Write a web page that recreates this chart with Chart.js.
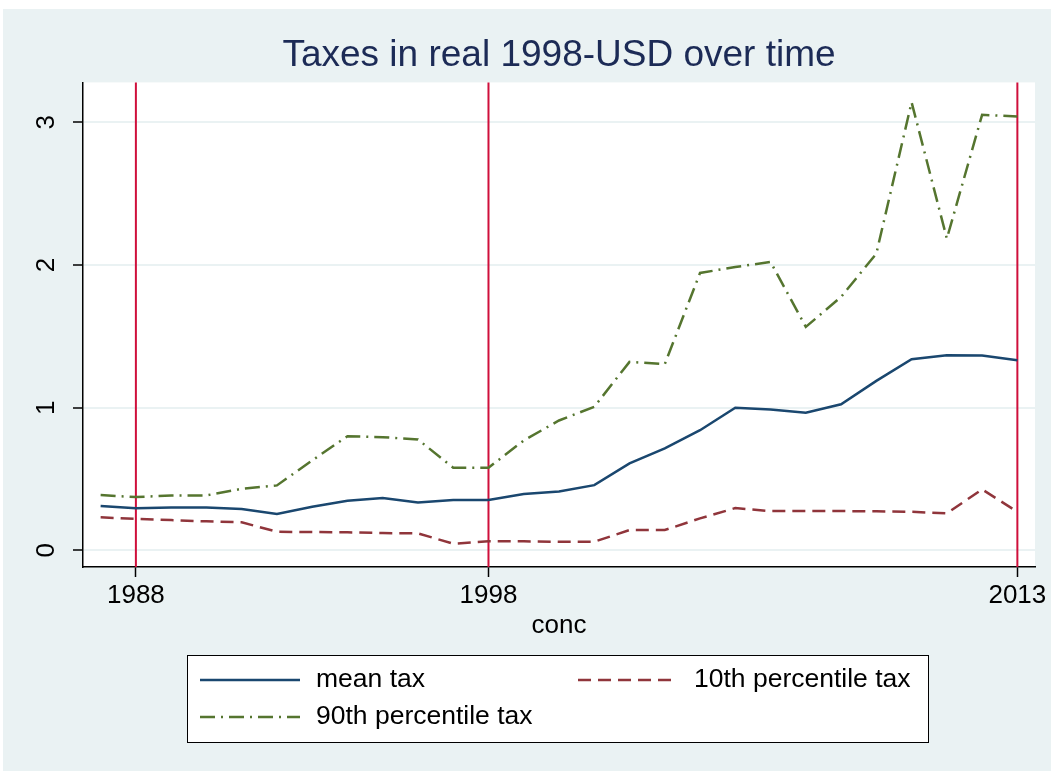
<!DOCTYPE html>
<html>
<head>
<meta charset="utf-8">
<title>Taxes in real 1998-USD over time</title>
<script src="https://cdn.jsdelivr.net/npm/chart.js@4.4.1/dist/chart.umd.min.js"></script>
<style>
  html, body { margin: 0; padding: 0; background: #ffffff; }
  #wrap { width: 1051px; height: 771px; }
</style>
</head>
<body>
<div id="wrap"><canvas id="taxChart" width="1051" height="771"></canvas></div>
<script>
// data
const years = [1987, 1988, 1989, 1990, 1991, 1992, 1993, 1994, 1995, 1996, 1997, 1998, 1999, 2000,
               2001, 2002, 2003, 2004, 2005, 2006, 2007, 2008, 2009, 2010, 2011, 2012, 2013];
const meanTax = [0.31, 0.294, 0.30, 0.30, 0.29, 0.254, 0.305, 0.347, 0.366, 0.336, 0.352, 0.352, 0.394, 0.413,
                 0.457, 0.609, 0.714, 0.842, 0.999, 0.987, 0.964, 1.024, 1.188, 1.34, 1.368, 1.366, 1.333];
const p10Tax = [0.231, 0.221, 0.212, 0.203, 0.196, 0.13, 0.128, 0.126, 0.121, 0.119, 0.046, 0.063, 0.063, 0.06,
                0.06, 0.142, 0.142, 0.224, 0.296, 0.275, 0.275, 0.275, 0.273, 0.27, 0.259, 0.427, 0.27];
const p90Tax = [0.387, 0.373, 0.385, 0.385, 0.431, 0.455, 0.63, 0.80, 0.793, 0.777, 0.579, 0.579, 0.77, 0.91,
                1.006, 1.321, 1.305, 1.944, 1.986, 2.021, 1.566, 1.776, 2.08, 3.141, 2.185, 3.053, 3.041];
const xTickYears = [1988, 1998, 2013];
const xLineYears = [1988, 1998, 2013];
const yTickValues = [0, 1, 2, 3];
const seriesLabels = ['mean tax', '10th percentile tax', '90th percentile tax'];

const BG = '#eaf2f3';
const FONT = '"Liberation Sans", Arial, sans-serif';

function toPoints(vals) {
    return years.map((y, i) => ({ x: y, y: vals[i] }));
}

// background: light blue graph region, white plot region
const backgroundPlugin = {
    id: 'stataBackground',
    afterLayout(chart) {
        // centre the title over the plot region, like stata does
        const t = chart.titleBlock;
        if (t) {
            t.left = chart.chartArea.left;
            t.right = chart.chartArea.right;
            t.width = t.right - t.left;
        }
    },
    beforeDraw(chart) {
        const ctx = chart.ctx;
        const a = chart.chartArea;
        ctx.save();
        ctx.fillStyle = '#ffffff';
        ctx.fillRect(0, 0, chart.width, chart.height);
        ctx.fillStyle = BG;
        ctx.fillRect(3, 9, chart.width - 3, chart.height - 9);
        ctx.fillStyle = '#ffffff';
        ctx.fillRect(a.left, a.top, a.right - a.left, a.bottom - a.top);
        ctx.restore();
    }
};

// red vertical reference lines
const xLinePlugin = {
    id: 'xLines',
    beforeDatasetsDraw(chart) {
        const ctx = chart.ctx;
        const a = chart.chartArea;
        const xs = chart.scales.x;
        ctx.save();
        ctx.strokeStyle = '#cf0f3b';
        ctx.lineWidth = 2;
        xLineYears.forEach(yr => {
            const px = xs.getPixelForValue(yr);
            ctx.beginPath();
            ctx.moveTo(px, a.top);
            ctx.lineTo(px, a.bottom);
            ctx.stroke();
        });
        ctx.restore();
    }
};

// stata-like boxed legend, two columns
const boxLegendPlugin = {
    id: 'boxLegend',
    afterDraw(chart) {
        const ctx = chart.ctx;
        const box = { x: 187.5, y: 655.5, w: 741, h: 87 };
        const slots = [
            { x: 200, y: 680 },
            { x: 578, y: 680 },
            { x: 200, y: 717 }
        ];
        ctx.save();
        ctx.fillStyle = '#ffffff';
        ctx.fillRect(box.x, box.y, box.w, box.h);
        ctx.strokeStyle = '#000000';
        ctx.lineWidth = 1;
        ctx.strokeRect(box.x, box.y, box.w, box.h);
        chart.data.datasets.forEach((ds, i) => {
            const s = slots[i];
            ctx.strokeStyle = ds.borderColor;
            ctx.lineWidth = 2.5;
            ctx.setLineDash(ds.borderDash || []);
            ctx.beginPath();
            ctx.moveTo(s.x, s.y);
            ctx.lineTo(s.x + 100, s.y);
            ctx.stroke();
            ctx.setLineDash([]);
            ctx.fillStyle = '#000000';
            ctx.font = '26.5px ' + FONT;
            ctx.textBaseline = 'middle';
            ctx.textAlign = 'left';
            ctx.fillText(ds.label, s.x + 116, s.y);
        });
        ctx.restore();
    }
};

const ctx = document.getElementById('taxChart').getContext('2d');

new Chart(ctx, {
    type: 'line',
    data: {
        datasets: [
            {
                label: seriesLabels[0],
                data: toPoints(meanTax),
                borderColor: '#1a476f',
                borderWidth: 2.5,
                order: 3
            },
            {
                label: seriesLabels[1],
                data: toPoints(p10Tax),
                borderColor: '#90353b',
                borderWidth: 2.5,
                borderDash: [13, 7],
                order: 2
            },
            {
                label: seriesLabels[2],
                data: toPoints(p90Tax),
                borderColor: '#55752f',
                borderWidth: 2.5,
                borderDash: [15, 6, 2, 6],
                order: 1
            }
        ]
    },
    options: {
        responsive: false,
        animation: false,
        devicePixelRatio: 1,
        elements: {
            point: { radius: 0, hoverRadius: 0 },
            line: { tension: 0, fill: false }
        },
        layout: {
            padding: { top: 0, left: 0, right: 16, bottom: 130 }
        },
        plugins: {
            legend: { display: false },
            tooltip: { enabled: false },
            title: {
                display: true,
                text: 'Taxes in real 1998-USD over time',
                color: '#1c2b56',
                font: { family: FONT, size: 37, weight: 'normal', lineHeight: 1.2 },
                padding: { top: 34, bottom: 4 }
            }
        },
        scales: {
            x: {
                type: 'linear',
                min: 1986.5,
                max: 2013.5,
                afterBuildTicks: s => { s.ticks = xTickYears.map(v => ({ value: v })); },
                afterFit: s => { s.height = 74; },
                ticks: {
                    color: '#000000',
                    font: { family: FONT, size: 26 },
                    padding: 3,
                    maxRotation: 0,
                    autoSkip: false,
                    callback: v => String(v)
                },
                grid: {
                    drawOnChartArea: false,
                    drawTicks: true,
                    tickLength: 10,
                    tickColor: '#000000',
                    tickWidth: 1.5
                },
                border: { display: true, color: '#000000', width: 1.5 },
                title: {
                    display: true,
                    text: 'conc',
                    color: '#000000',
                    font: { family: FONT, size: 26 },
                    padding: 0
                }
            },
            y: {
                min: -0.117,
                max: 3.28,
                afterBuildTicks: s => { s.ticks = yTickValues.map(v => ({ value: v })); },
                afterFit: s => { s.width = 83; },
                ticks: {
                    color: '#000000',
                    font: { family: FONT, size: 26 },
                    minRotation: 90,
                    maxRotation: 90,
                    crossAlign: 'center',
                    padding: 19,
                    callback: v => String(v)
                },
                grid: {
                    color: BG,
                    lineWidth: 2,
                    drawTicks: true,
                    tickLength: 10,
                    tickColor: '#000000',
                    tickWidth: 1.5
                },
                border: { display: true, color: '#000000', width: 1.5 }
            }
        }
    },
    plugins: [backgroundPlugin, xLinePlugin, boxLegendPlugin]
});
</script>
</body>
</html>
